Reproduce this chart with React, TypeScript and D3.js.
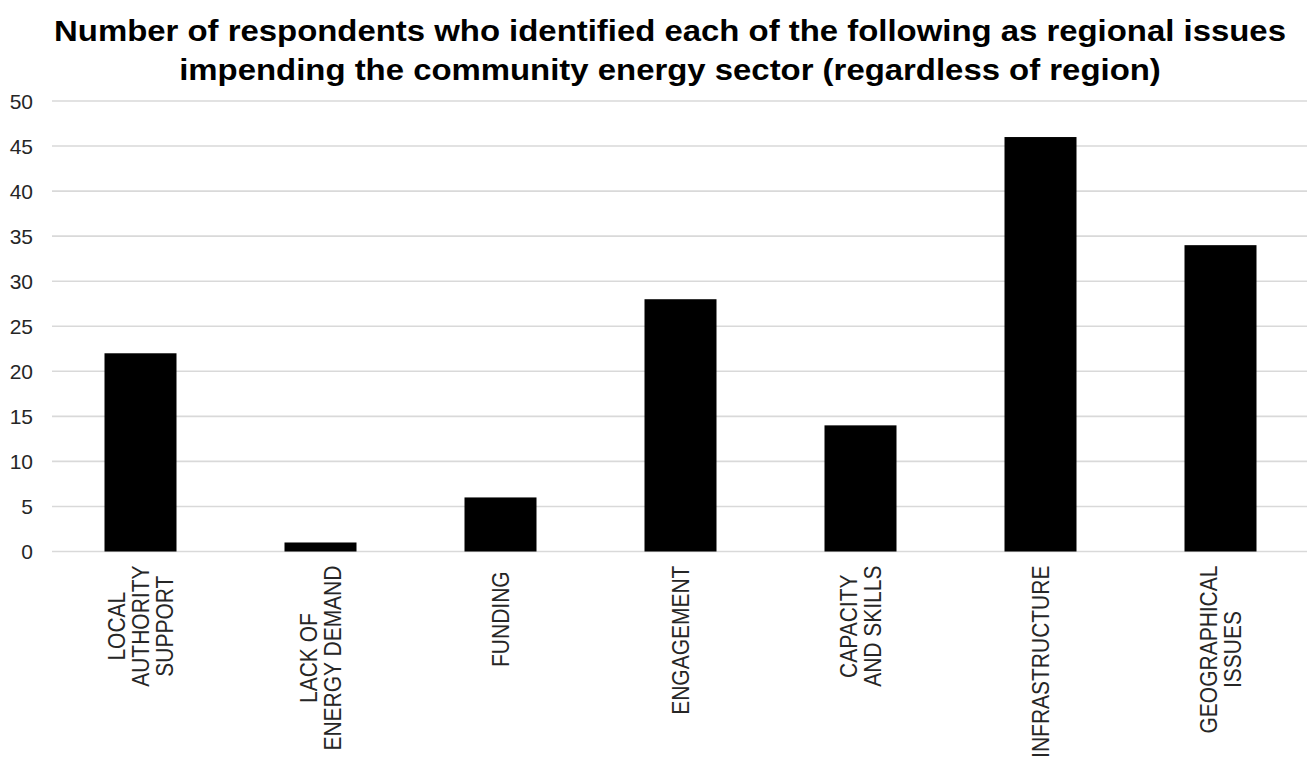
import React, { useEffect, useRef } from "react";
import * as d3 from "d3";

// Category labels, one entry per line of the wrapped label
const categories: string[][] = [
  ["LOCAL", "AUTHORITY", "SUPPORT"],
  ["LACK OF", "ENERGY DEMAND"],
  ["FUNDING "],
  ["ENGAGEMENT"],
  ["CAPACITY", "AND SKILLS"],
  ["INFRASTRUCTURE"],
  ["GEOGRAPHICAL", "ISSUES"],
];
const counts: number[] = [22, 1, 6, 28, 14, 46, 34];
const yTicks: number[] = [0, 5, 10, 15, 20, 25, 30, 35, 40, 45, 50];
const titleLines: string[] = [
  "Number of respondents who identified each of the following as regional issues",
  "impending the community energy sector (regardless of region)",
];

const W = 1307;
const H = 757;
const FONT = "'Liberation Sans', Arial, sans-serif";

export default function App() {
  const ref = useRef<SVGSVGElement | null>(null);

  useEffect(() => {
    const svg = d3.select(ref.current!);
    svg.selectAll("*").remove();

    const keys = categories.map((_, i) => String(i));
    const x = d3
      .scaleBand<string>()
      .domain(keys)
      .range([50.5, 1310.5])
      .paddingInner(0.6)
      .paddingOuter(0.3);
    const y = d3.scaleLinear().domain([0, 50]).range([551.5, 101]);

    // Title
    const title = svg
      .append("g")
      .attr("transform", "translate(670,0) scale(1.135,1)")
      .attr("font-family", FONT)
      .attr("font-weight", "bold")
      .attr("font-size", 29)
      .attr("fill", "#000")
      .attr("text-anchor", "middle");
    titleLines.forEach((t, i) => {
      title.append("text").attr("x", 0).attr("y", 41.5 + i * 38.5).text(t);
    });

    // Gridlines
    svg
      .append("g")
      .selectAll("line")
      .data(yTicks)
      .join("line")
      .attr("x1", 52)
      .attr("x2", W)
      .attr("y1", (d) => y(d))
      .attr("y2", (d) => y(d))
      .attr("stroke", "#d9d9d9")
      .attr("stroke-width", 1.6);

    // Y tick labels
    svg
      .append("g")
      .attr("font-family", FONT)
      .attr("font-size", 21)
      .attr("fill", "#262626")
      .attr("text-anchor", "end")
      .selectAll("text")
      .data(yTicks)
      .join("text")
      .attr("x", 33)
      .attr("y", (d) => y(d) + 7.5)
      .text((d) => String(d));

    // Bars
    svg
      .append("g")
      .selectAll("rect")
      .data(counts)
      .join("rect")
      .attr("x", (_, i) => x(keys[i])!)
      .attr("width", x.bandwidth())
      .attr("y", (d) => y(d))
      .attr("height", (d) => y(0) - y(d))
      .attr("fill", "#000");

    // Rotated category labels, lines centred on each other
    const fs = 21;
    const stretch = 1.14;
    const lineGap = 24 / stretch;
    const labelTop = y(0) + 14;
    const labels = svg
      .append("g")
      .attr("font-family", FONT)
      .attr("font-size", fs)
      .attr("fill", "#262626");
    categories.forEach((lines, i) => {
      const cx = x(keys[i])! + x.bandwidth() / 2;
      const g = labels.append("g");
      const texts = lines.map((ln, j) =>
        g
          .append("text")
          .style("white-space", "pre")
          .attr("text-anchor", "middle")
          .attr("x", 0)
          .attr("y", (j - (lines.length - 1) / 2) * lineGap + 0.358 * fs)
          .text(ln)
      );
      const maxLen = d3.max(texts, (t) => (t.node() as SVGTextElement).getComputedTextLength()) || 0;
      g.attr(
        "transform",
        `translate(${cx},${labelTop + maxLen / 2}) rotate(-90) scale(1,${stretch})`
      );
    });
  }, []);

  return (
    <div style={{ position: "fixed", left: 0, top: 0, width: W, height: H, background: "#fff" }}>
      <svg ref={ref} width={W} height={H} style={{ display: "block" }} />
    </div>
  );
}
